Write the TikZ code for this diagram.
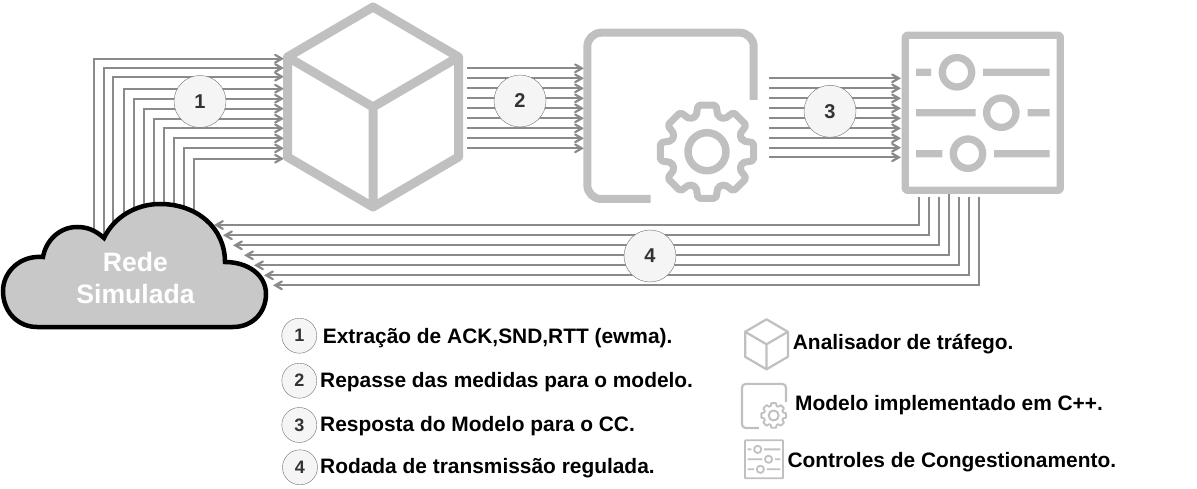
\documentclass[tikz,border=0pt]{standalone}
\usepackage{fontspec}
\setmainfont{Liberation Sans}
\usetikzlibrary{arrows, calc, positioning}
\definecolor{wire-gray}{HTML}{8A8A8A}
\definecolor{icon-gray}{HTML}{C0C0C0}
\definecolor{cloud-gray}{HTML}{C8C8C8}
\definecolor{step-fill}{HTML}{F5F5F5}
\definecolor{step-text}{HTML}{333333}
\tikzset{
	wire/.style={draw=wire-gray, line width=2.2pt},
	arrowwire/.style={wire, ->, >=angle 60},
	iconline/.style={draw=icon-gray, line join=round},
	stepbig/.style={circle, draw=step-text!70, fill=step-fill, minimum size=52pt, inner sep=0pt, text=step-text, font=\bfseries\fontsize{20}{24}\selectfont},
	stepsmall/.style={circle, draw=step-text!70, fill=step-fill, minimum size=35pt, inner sep=0pt, text=step-text, font=\bfseries\fontsize{18}{22}\selectfont},
	legendtext/.style={anchor=base west, inner sep=0pt, font=\bfseries\fontsize{20.9}{25}\selectfont},
	cubeicon/.pic={
		\draw[iconline, scale=#1, line width=#1*9pt] (0,-100) -- (85.5,-50) -- (85.5,50) -- (0,100) -- (-85.5,50) -- (-85.5,-50) -- cycle;
		\draw[iconline, scale=#1, line width=#1*9pt] (-85.5,-50) -- (0,0) -- (85.5,-50) (0,0) -- (0,100);
	},
	gearicon/.pic={
		\draw[iconline, scale=#1, line width=#1*8pt, rounded corners=#1*14pt] (83.2,-16) -- (83.2,-83.3) -- (-83.2,-83.3) -- (-83.2,83) -- (-19.8,83);
		\draw[iconline, scale=#1, shift={(36.5,35.7)}, line width=#1*7pt, rounded corners=#1*2pt] (-17:37) \foreach \a in {0,45,...,315} { -- (\a-17:37) -- (\a-11:47.5) -- (\a+11:47.5) -- (\a+17:37) } -- cycle;
		\draw[iconline, scale=#1, shift={(36.5,35.7)}, line width=#1*7.5pt] (0,0) circle (19);
	},
	slidericon/.pic={
		\draw[iconline, scale=#1, line width=#1*7.3pt, rounded corners=#1*2pt] (-77.5,-77.5) rectangle (77.5,77.5);
		\draw[iconline, scale=#1, line width=#1*7.3pt] (-66.8,-40.5) -- (-51.8,-40.5) (-25.8,-40.5) circle (14.7) (0.2,-40.5) -- (66.9,-40.5);
		\draw[iconline, scale=#1, line width=#1*7.3pt] (-66.8,-0.1) -- (-7.1,-0.1) (18.5,-0.1) circle (14.7) (44.9,-0.1) -- (66.9,-0.1);
		\draw[iconline, scale=#1, line width=#1*7.3pt] (-66.8,40.9) -- (-40.5,40.9) (-14.8,40.9) circle (14.7) (11.2,40.9) -- (66.9,40.9);
	}
}
\begin{document}
\begin{tikzpicture}[x=1pt, y=-1pt]
	\useasboundingbox (0,0) rectangle (1197,489);

	\foreach \i/\xa/\ya in {1/94.3/58.7, 2/103.7/68, 3/113.3/76.7, 4/124/88.7, 5/134.3/98.7, 6/144.3/108.7, 7/154.3/118.7, 8/164.3/128.3, 9/174.3/138.3, 10/184.3/148.3, 11/194.3/158.7} {
		\coordinate (netout\i) at (\xa,245);
		\coordinate (cubein\i) at (284,\ya);
		\draw[arrowwire] (netout\i) |- (cubein\i);
	}
	\foreach \i/\ya in {1/68.3, 2/78.3, 3/88.3, 4/98.3, 5/108.3, 6/118.3, 7/128.3, 8/138.3, 9/148.3} {
		\coordinate (cubeout\i) at (467,\ya);
		\coordinate (gearin\i) at (584,\ya);
		\draw[arrowwire] (cubeout\i) -- (gearin\i);
	}
	\foreach \i/\ya in {1/78.3, 2/88.3, 3/98.3, 4/108.3, 5/118.3, 6/128.3, 7/138.3, 8/147.7, 9/157.3} {
		\coordinate (gearout\i) at (769,\ya);
		\coordinate (ctrlin\i) at (901,\ya);
		\draw[arrowwire] (gearout\i) -- (ctrlin\i);
	}
	\foreach \i/\xa/\xb/\ya/\yb in {1/919.3/214/197/225, 2/929.3/223/197/235.3, 3/939.3/233/197/245.3, 4/949.3/244/194/255.3, 5/959.3/254/197/265.3, 6/969.3/264/197/275.3, 7/979.3/273/197/285.3} {
		\coordinate (ctrlout\i) at (\xa,\ya);
		\coordinate (netin\i) at (\xb,\yb);
		\draw[arrowwire] (ctrlout\i) |- (netin\i);
	}

	\pic (cubebig) at (373,107) {cubeicon=1};
	\pic (gearbig) at (670.5,116) {gearicon=1};
	\pic (ctrlbig) at (982.8,112.8) {slidericon=1};

	\node[stepbig] at (200,101.5) (stepa) {1};
	\node[stepbig] at (520,101) (stepb) {2};
	\node[stepbig] at (830,111.3) (stepc) {3};
	\node[stepbig] at (650,256) (stepd) {4};

	\draw[line width=4.5pt, fill=cloud-gray, line join=miter] (37,327) -- (233,327) .. controls (253,327) and (266,312) .. (266,294) .. controls (266,275) and (248,262) .. (225,262) .. controls (225,228) and (197,204) .. (160,204) .. controls (136,204) and (114,217) .. (104,238) .. controls (95,230) and (87,227) .. (77,227) .. controls (60,227) and (46,240) .. (43,257) .. controls (20,255) and (3,272) .. (3,291) .. controls (3,312) and (18,327) .. (37,327) -- cycle;
	\node[align=center, text=white, inner sep=0pt, font=\bfseries\fontsize{26.6}{31.5}\selectfont] at (135.5,278) (rede) {Rede\\Simulada};

	\node[stepsmall] at (299.3,335.7) (legenda) {1};
	\node[stepsmall] at (299.3,380.7) (legendb) {2};
	\node[stepsmall] at (299.3,425) (legendc) {3};
	\node[stepsmall] at (300,467.3) (legendd) {4};
	\node[legendtext] at (322.7,343.3) (texta) {Extração de ACK,SND,RTT (ewma).};
	\node[legendtext] at (320,387) (textb) {Repasse das medidas para o modelo.};
	\node[legendtext] at (320,431.7) (textc) {Resposta do Modelo para o CC.};
	\node[legendtext] at (320,473.3) (textd) {Rodada de transmissão regulada.};

	\pic (cubesmall) at (766.5,344.3) {cubeicon=0.25};
	\pic (gearsmall) at (764,406) {gearicon=0.265};
	\pic (ctrlsmall) at (764,459.3) {slidericon=0.245};
	\node[legendtext] at (792.7,349) (textcube) {Analisador de tráfego.};
	\node[legendtext] at (795,410.7) (textgear) {Modelo implementado em C++.};
	\node[legendtext] at (787.3,467.3) (textctrl) {Controles de Congestionamento.};
\end{tikzpicture}
\end{document}
